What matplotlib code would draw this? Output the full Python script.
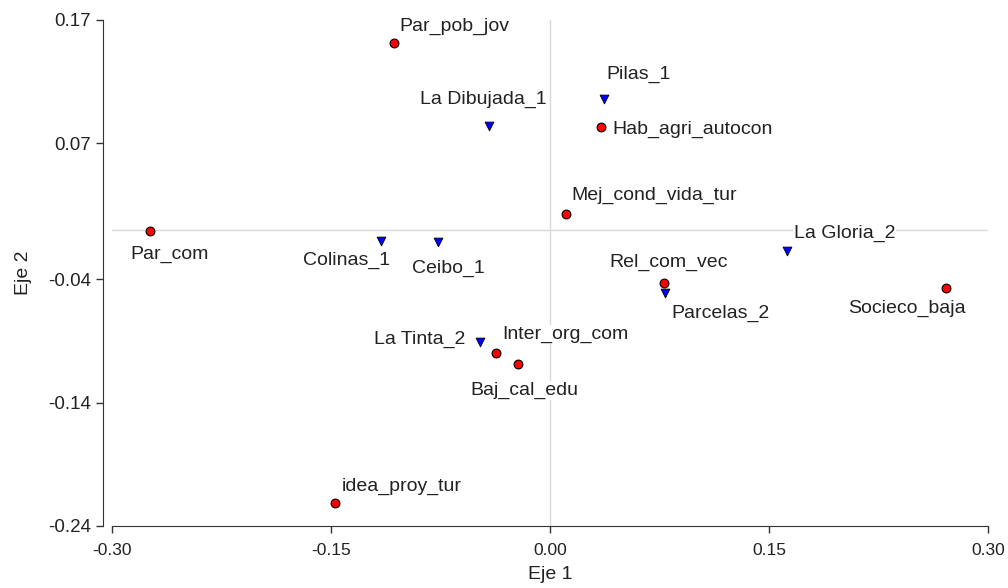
import matplotlib
matplotlib.use("Agg")
import matplotlib.pyplot as plt

plt.rcParams['font.family'] = ['Liberation Sans', 'DejaVu Sans']

# variables (red circles)
var_names = ["Par_pob_jov", "Hab_agri_autocon", "Mej_cond_vida_tur", "Par_com",
             "Rel_com_vec", "Socieco_baja", "Inter_org_com", "Baj_cal_edu",
             "idea_proy_tur"]
var_x = [-0.107, 0.035, 0.011, -0.274, 0.078, 0.271, -0.037, -0.022, -0.147]
var_y = [0.151, 0.083, 0.013, -0.001, -0.043, -0.047, -0.100, -0.109, -0.221]

# sites (blue triangles)
site_names = ["Pilas_1", "La Dibujada_1", "Colinas_1", "Ceibo_1", "La Gloria_2",
              "Parcelas_2", "La Tinta_2"]
site_x = [0.037, -0.042, -0.116, -0.077, 0.162, 0.079, -0.048]
site_y = [0.106, 0.084, -0.009, -0.010, -0.017, -0.051, -0.091]

xticks = [-0.30, -0.15, 0.00, 0.15, 0.30]
yticks = [-0.24, -0.14, -0.04, 0.07, 0.17]

# label offsets in pixels (dx, dy, ha)
var_off = {
    "Par_pob_jov": (6, 17, "left"),
    "Hab_agri_autocon": (11, -2, "left"),
    "Mej_cond_vida_tur": (5, 18, "left"),
    "Par_com": (-20, -23, "left"),
    "Rel_com_vec": (-55, 20, "left"),
    "Socieco_baja": (-98, -21, "left"),
    "Inter_org_com": (6, 19, "left"),
    "Baj_cal_edu": (-48, -26, "left"),
    "idea_proy_tur": (6, 16, "left"),
}
site_off = {
    "Pilas_1": (2, 25, "left"),
    "La Dibujada_1": (58, 27, "right"),
    "Colinas_1": (9, -19, "right"),
    "Ceibo_1": (-26, -26, "left"),
    "La Gloria_2": (7, 17, "left"),
    "Parcelas_2": (6, -21, "left"),
    "La Tinta_2": (-15, 3, "right"),
}

fig = plt.figure(figsize=(10.08, 5.88), dpi=100)
ax = fig.add_axes([112 / 1008, 1 - 526 / 588, 876 / 1008, 506 / 588])

ax.axhline(0, color="#d9d9d9", lw=1, zorder=0)
ax.axvline(0, color="#d9d9d9", lw=1, zorder=0)

ax.scatter(var_x, var_y, marker="o", s=40, c="red", edgecolors="black",
           linewidths=0.8, zorder=3)
ax.scatter(site_x, site_y, marker="v", s=40, c="blue", edgecolors="black",
           linewidths=0.6, zorder=3)

def label(names, xs, ys, offs):
    for n, x, y in zip(names, xs, ys):
        dx, dy, ha = offs[n]
        ax.annotate(n, (x, y), xytext=(dx, dy), textcoords="offset pixels",
                    ha=ha, va="center", fontsize=14, color="#222222",
                    bbox=dict(boxstyle="square,pad=0.05", fc="white", ec="none"),
                    zorder=2)

label(var_names, var_x, var_y, var_off)
label(site_names, site_x, site_y, site_off)

ax.set_xlim(-0.30, 0.30)
ax.set_ylim(-0.24, 0.17)
ax.set_xticks(xticks, [f"{v:.2f}" for v in xticks])
ax.set_yticks(yticks, [f"{v:.2f}" for v in yticks])

for s in ["top", "right"]:
    ax.spines[s].set_visible(False)
ax.spines["left"].set_position(("outward", 6.5))
ax.spines["left"].set_color("#333333")
ax.spines["bottom"].set_color("#333333")
ax.tick_params(direction="out", length=5, width=1, colors="#333333",
               labelcolor="#222222")
ax.tick_params(axis="y", labelsize=13.5)
ax.tick_params(axis="x", labelsize=12.5, pad=7)

ax.set_xlabel("Eje 1", fontsize=14, color="#222222", labelpad=6)
ax.set_ylabel("Eje 2", fontsize=14, color="#222222", labelpad=12)

fig.savefig("out.png", dpi=100)
